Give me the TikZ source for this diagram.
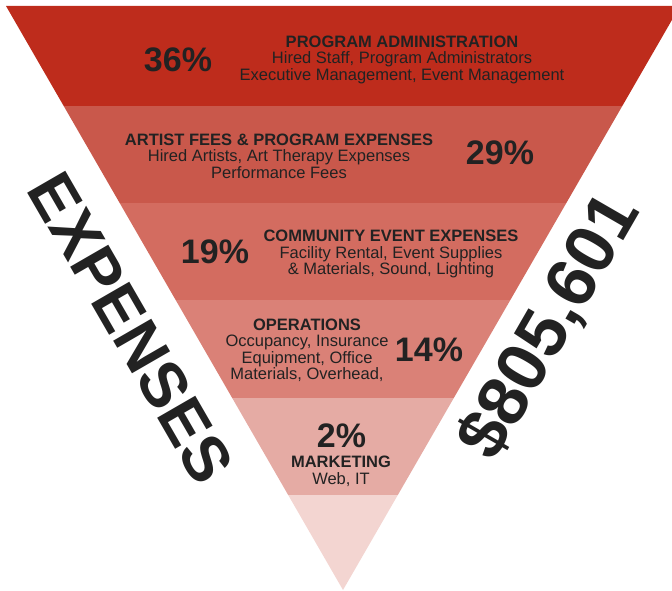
\documentclass[tikz,border=0pt]{standalone}
\usepackage{fontspec}
\setmainfont{Liberation Sans}
\definecolor{bandA}{HTML}{BE2C1C}
\definecolor{bandB}{HTML}{C9584B}
\definecolor{bandC}{HTML}{D36C60}
\definecolor{bandD}{HTML}{DA8177}
\definecolor{bandE}{HTML}{E5ABA4}
\definecolor{bandF}{HTML}{F3D5D1}
\definecolor{ink}{HTML}{222222}
\tikzset{
  pct/.style={text=ink, font=\fontsize{34}{34}\selectfont\bfseries, inner sep=0pt},
  info/.style={text=ink, align=center, font=\fontsize{16.5}{16.5}\selectfont, inner sep=0pt},
  bigword/.style={text=ink, font=\fontsize{#1}{#1}\selectfont\bfseries, inner sep=0pt},
}
\begin{document}
\begin{tikzpicture}[x=1pt,y=-1pt]
\useasboundingbox (0,0) rectangle (672,591);
\begin{scope}
  \clip (6,6) -- (680,6) -- (343,590) -- cycle;
  \fill[bandA] (0,0) rectangle (672,106);
  \fill[bandB] (0,106) rectangle (672,203);
  \fill[bandC] (0,203) rectangle (672,300);
  \fill[bandD] (0,300) rectangle (672,398);
  \fill[bandE] (0,398) rectangle (672,495);
  \fill[bandF] (0,495) rectangle (672,591);
\end{scope}
% band 1
\node[pct] (p1) at (178,59.5) {36\%};
\node[info] (t1) at (402,59.5) {{\bfseries PROGRAM ADMINISTRATION}\\Hired Staff, Program Administrators\\Executive Management, Event Management};
% band 2
\node[info] (t2) at (279,156) {{\bfseries ARTIST FEES \& PROGRAM EXPENSES}\\Hired Artists, Art Therapy Expenses\\Performance Fees};
\node[pct] (p2) at (500,153) {29\%};
% band 3
\node[pct] (p3) at (215,251.5) {19\%};
\node[info] (t3) at (391,254) {{\bfseries COMMUNITY EVENT EXPENSES}\\Facility Rental, Event Supplies\\\& Materials, Sound, Lighting};
% band 4
\node[info] (t4) at (307,350.5) {{\bfseries OPERATIONS}\\Occupancy, Insurance\\Equipment, Office\\Materials, Overhead,};
\node[pct] (p4) at (429,350) {14\%};
% band 5
\node[pct] (p5) at (341.5,436) {2\%};
\node[info] (t5) at (341,471.5) {{\bfseries MARKETING}\\Web, IT};
% side labels
\node[bigword=64, rotate=-60] (expenses) at (131,328) {EXPENSES};
\node[bigword=70, rotate=60] (total) at (550,327) {\$805,601};
\end{tikzpicture}
\end{document}
